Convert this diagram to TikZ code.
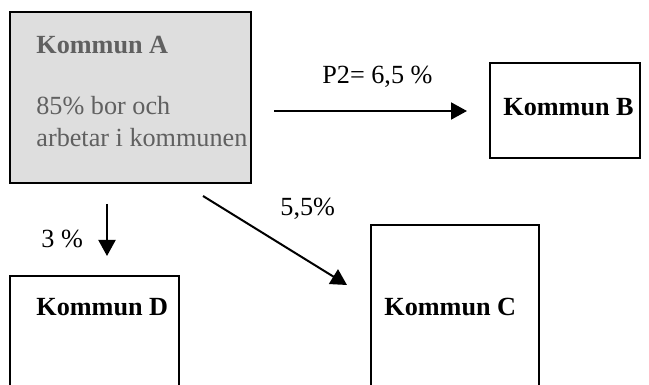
\documentclass[tikz,border=0pt]{standalone}
\usepackage{fontspec}
\setmainfont{Liberation Serif}
\usetikzlibrary{arrows.meta}
\definecolor{boxgray}{HTML}{DEDEDE}
\definecolor{txtgray}{HTML}{606060}
\begin{document}
\begin{tikzpicture}[x=0.5pt,y=-0.5pt,
  box/.style={draw=black,line width=1pt,inner sep=0pt,outer sep=0pt},
  arr/.style={line width=1pt,-{Triangle[length=8pt,width=8.5pt]}},
  lbl/.style={anchor=base west,inner sep=0pt,font=\fontsize{13.1}{15}\selectfont},
  blbl/.style={lbl,font=\fontsize{13.1}{15}\selectfont\bfseries}]
\useasboundingbox (0,0) rectangle (649,385);
\clip (0,0) rectangle (649,385);
% boxes
\node[box,fill=boxgray,minimum width=120.5pt,minimum height=85.5pt] (A) at (130.5,97.5) {};
\node[box,minimum width=75pt,minimum height=47.5pt] (B) at (565,110.5) {};
\node[box,minimum width=84pt,minimum height=95pt] (C) at (455,320) {};
\node[box,minimum width=84.5pt,minimum height=80pt] (D) at (94.5,356) {};
% texts
\node[blbl,text=txtgray] (tA) at (36,54) {Kommun A};
\node[lbl,text=txtgray] (tA1) at (36,115) {85\% bor och};
\node[lbl,text=txtgray] (tA2) at (36,147) {arbetar i kommunen};
\node[blbl] (tB) at (503,116) {Kommun B};
\node[blbl] (tC) at (384,315) {Kommun C};
\node[blbl] (tD) at (36,315) {Kommun D};
\node[lbl] (lAB) at (322,84) {P2= 6,5 \%};
\node[lbl] (lAD) at (41,248) {3 \%};
\node[lbl] (lAC) at (280,216) {5,5\%};
% arrows
\coordinate (ab1) at (274,111);
\coordinate (ab2) at (467,111);
\coordinate (ad1) at (107,204);
\coordinate (ad2) at (107,256);
\coordinate (ac1) at (203,196);
\coordinate (ac2) at (347,285);
\draw[arr] (ab1) -- (ab2);
\draw[arr] (ad1) -- (ad2);
\draw[arr] (ac1) -- (ac2);
\end{tikzpicture}
\end{document}
